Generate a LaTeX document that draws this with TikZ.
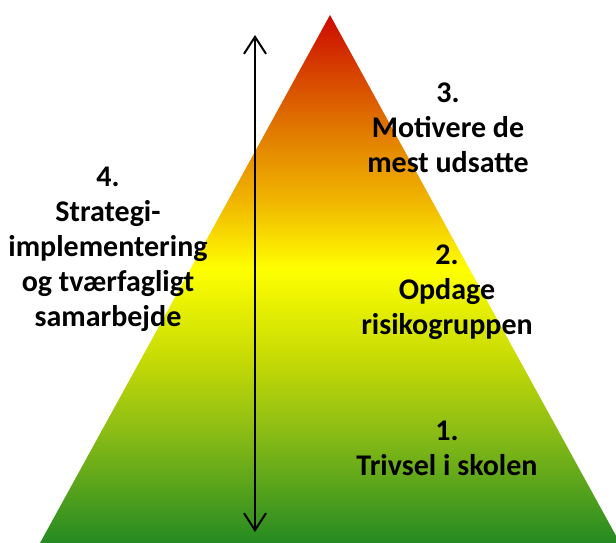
\documentclass[tikz,border=0pt]{standalone}
\usepackage{fontspec}
\setmainfont{Carlito}
\usetikzlibrary{arrows.meta}
\definecolor{gbot}{HTML}{258A22}
\definecolor{glow}{HTML}{8CBD15}
\definecolor{gmid}{HTML}{C5DA05}
\definecolor{yel}{HTML}{FFFF00}
\definecolor{ora}{HTML}{F0B400}
\definecolor{orb}{HTML}{E38200}
\definecolor{rdo}{HTML}{D84A00}
\definecolor{rdt}{HTML}{CC0A00}
\pgfdeclareverticalshading{pyramid}{100bp}{color(0bp)=(gbot); color(25bp)=(gbot); color(35.7bp)=(glow); color(42.3bp)=(gmid); color(51bp)=(yel); color(57.5bp)=(ora); color(63.2bp)=(orb); color(68.8bp)=(rdo); color(75bp)=(rdt); color(100bp)=(rdt)}

\begin{document}
\begin{tikzpicture}[x=1pt,y=-1pt,>={Straight Barb[length=17pt,width=22pt,line width=2pt]},
  lbl/.style={align=center,font=\fontsize{30}{35}\selectfont\bfseries,inner sep=0pt}]
\useasboundingbox (0,0) rectangle (616,543);
\clip (0,0) rectangle (616,543);
\shade[shading=pyramid] (330,15)--(620,543)--(40,543)--cycle;
\coordinate (top) at (255,35);
\coordinate (bot) at (255,532);
\draw[<->,line width=2.4pt] (top)--(bot);
\node[lbl] (lvlfour) at (108,249) {4.\\Strategi-\\implementering\\og tværfagligt\\samarbejde};
\node[lbl] (lvlthree) at (448,128) {3.\\Motivere de\\mest udsatte};
\node[lbl] (lvltwo) at (447,292) {2.\\Opdage\\risikogruppen};
\node[lbl] (lvlone) at (447,448) {1.\\Trivsel i skolen};
\end{tikzpicture}
\end{document}
